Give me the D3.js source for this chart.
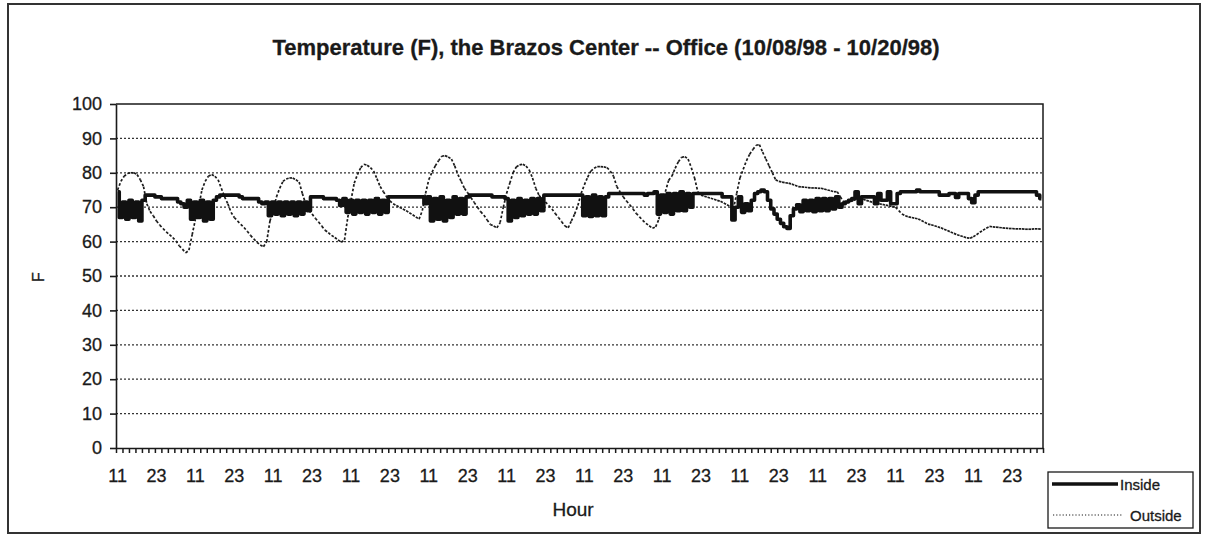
<!DOCTYPE html>
<html>
<head>
<meta charset="utf-8">
<script src="https://cdn.jsdelivr.net/npm/d3@7"></script>
<style>
    body { margin: 0; background: #fff; }
    text { font-family: "Liberation Sans", Arial, sans-serif; fill: #1a1a1a; stroke: #1a1a1a; stroke-width: 0.3px; }
</style>
</head>
<body>
<svg id="chart" width="1206" height="541"></svg>
<script>
// hourly readings, first one at 11:00 on 10/08/98
const startHour = 11;
const labelHours = [11, 23];
const yTicks = [0, 10, 20, 30, 40, 50, 60, 70, 80, 90, 100];
const seriesNames = ['Inside', 'Outside'];

const insideTemp = [
    74.5, 67, 71.5, 66.5, 72, 67, 71.5, 66, 72, 73.5, 73.5, 73.5,
    73, 73, 72.5, 72.5, 72.5, 72.5, 72.5, 71.5, 71, 70, 72, 66.5,
    71.5, 67, 72, 66, 71.5, 66.5, 72, 73, 73.5, 73.5, 73.5, 73.5,
    73.5, 73.5, 73, 72.5, 72.5, 72.5, 72.5, 72.5, 71.5, 71, 71.5, 67.5,
    71.5, 68, 71.5, 67.5, 71.5, 68, 71.5, 67.5, 71.5, 68, 71.5, 69,
    73, 73, 73, 73, 72.5, 72.5, 72.5, 72.5, 72, 70.5, 72.5, 68.5,
    72, 68, 72, 68.5, 72, 68, 72, 68.5, 72.5, 68, 72, 68.5,
    73, 73, 73, 73, 73, 73, 73, 73, 73, 73, 73, 71,
    73, 66, 72.5, 66.5, 73, 66, 72, 67, 73, 68, 72.5, 68,
    73, 73.5, 73.5, 73.5, 73.5, 73.5, 73.5, 73.5, 73, 73, 73, 73,
    72.5, 66, 72, 67, 72.5, 67.5, 72, 68, 72.5, 68, 72.5, 69,
    73.5, 73.5, 73.5, 73.5, 73.5, 73.5, 73.5, 73.5, 73.5, 73.5, 73.5, 73.5,
    67.5, 73, 67.3, 73.5, 67.5, 73, 67.5, 73, 74, 74, 74, 74,
    74, 74, 74, 74, 74, 74, 74, 73.5, 74, 74, 74.5, 68,
    73.5, 68.5, 74, 68, 74, 69, 74.5, 69, 74, 70, 74, 74,
    74, 74, 74, 74, 74, 74, 74, 73, 73, 73, 66.3, 70,
    73, 68.5, 71, 69, 72, 74, 74.5, 75, 74.5, 72, 69.5, 68,
    66.5, 65.3, 64.3, 63.8, 67.5, 69.5, 70.7, 68.7, 72, 69, 72, 68.7,
    72.5, 69, 72.5, 69, 72.5, 69.5, 73, 70, 71, 71.5, 72, 72.5,
    74.5, 71, 73, 73, 73, 73, 71, 74, 72, 72, 74.5, 71,
    71, 74, 74.5, 74.5, 74.5, 74.5, 74.5, 75, 74.5, 74.5, 74.5, 74.5,
    74.5, 74.5, 73.5, 73.5, 73.5, 74, 74, 72.8, 74, 74, 74, 72.5,
    71.3, 73.5, 74.5, 74.5, 74.5, 74.5, 74.5, 74.5, 74.5, 74.5, 74.5, 74.5,
    74.5, 74.5, 74.5, 74.5, 74.5, 74.5, 74.5, 74.5, 73.5, 72.5
];

const outsideTemp = [
    75, 77.5, 79, 79.8, 80, 80, 79.5, 78, 76, 71, 68.8, 67.5,
    66, 64.8, 63.8, 62.8, 62, 61.2, 60.2, 58.8, 57.8, 56.7, 57.5, 62,
    66.5, 70, 75, 77.5, 79, 79.5, 79, 78, 75.5, 73, 71, 68.5,
    67, 66, 65, 64.1, 63, 61.8, 60.8, 59.8, 59, 58.5, 60, 66,
    69, 73, 75.5, 77.5, 78.2, 78.5, 78.5, 78, 77.3, 74, 71, 69,
    68, 66.8, 65.7, 64.5, 63.3, 62.6, 61.8, 61.2, 60.5, 59.8, 60.5, 67,
    72, 77, 79.5, 81.5, 82.5, 82.2, 81.5, 80.5, 78.3, 76, 74.5, 73,
    71.8, 71, 70.5, 70, 69.5, 69, 68.4, 67.8, 67.2, 66.5, 69, 74,
    78, 80.2, 82, 83.5, 84.8, 85, 84.6, 84, 82, 79.5, 77.5, 75.5,
    74.2, 72.8, 71.4, 70, 68.7, 67.7, 66.3, 65, 64.5, 64, 65.5, 70,
    74, 77, 80, 81.7, 82.3, 82.5, 82, 80.8, 78.5, 75.5, 73.5, 72.3,
    71.5, 70.5, 69.5, 68.2, 67, 65.8, 64.5, 64, 66, 68, 70.5, 74,
    76.5, 78.7, 80.5, 81.3, 81.8, 81.8, 81.7, 81.5, 80.5, 79, 76, 74.5,
    73, 71.8, 70.7, 69.5, 68.2, 67.2, 66.2, 65.3, 64.6, 63.9, 64.3, 66.5,
    72, 74.5, 77.8, 79, 81.3, 83.2, 84.5, 84.7, 84, 81.5, 78.5, 74.5,
    73.5, 73.2, 72.9, 72.6, 72.3, 72, 71.7, 71.2, 70.7, 70.2, 69.5, 74,
    78.5, 81, 83.5, 85.4, 86.8, 88, 88.2, 86, 84, 82, 80, 78,
    77.5, 77.3, 77.1, 77, 76.7, 76.4, 76, 75.9, 75.8, 75.7, 75.6, 75.6,
    75.5, 75.5, 75.3, 75, 74.8, 74.5, 74.5, 73, 71.5, 71.3, 71.6, 72,
    72.3, 72.5, 72.3, 72, 71.7, 71.4, 71.2, 71, 70.8, 70.6, 70.4, 70.2,
    70, 69, 68, 67.5, 67.2, 67, 66.8, 66.6, 66.1, 65.6, 65.1, 64.9,
    64.6, 64.3, 64, 63.6, 63.2, 62.8, 62.4, 62, 61.7, 61.4, 61.1, 61,
    61.4, 62, 62.7, 63.3, 63.9, 64.4, 64.3, 64.2, 64.1, 64, 63.9, 63.8,
    63.8, 63.7, 63.7, 63.7, 63.6, 63.6, 63.6, 63.7, 63.7, 63.6
];

const svg = d3.select('#chart');
const plot = { left: 116, right: 1043, top: 104, bottom: 448 };
const ink = '#1a1a1a';

const categories = insideTemp.map((d, i) => i);
const hourOf = i => (startHour + i) % 24;

const x = d3.scaleBand().domain(categories).range([plot.left, plot.right]);
const xEdge = d3.scaleLinear().domain([0, categories.length]).range([plot.left, plot.right]);
const y = d3.scaleLinear().domain([0, 100]).range([plot.bottom, plot.top]);
const cx = i => x(i) + x.bandwidth() / 2;

// outer frame
svg.append('rect')
    .attr('x', 8).attr('y', 4)
    .attr('width', 1192).attr('height', 529)
    .attr('fill', 'none')
    .attr('stroke', '#333')
    .attr('stroke-width', 2);

// title
svg.append('text')
    .attr('x', 606).attr('y', 55)
    .attr('text-anchor', 'middle')
    .attr('font-size', '22px')
    .attr('font-weight', 'bold')
    .text('Temperature (F), the Brazos Center -- Office (10/08/98 - 10/20/98)');

// dotted gridlines
svg.append('g')
    .selectAll('line')
    .data(yTicks.filter(t => t > 0 && t < 100))
    .enter()
    .append('line')
    .attr('x1', plot.left).attr('x2', plot.right)
    .attr('y1', d => y(d)).attr('y2', d => y(d))
    .attr('stroke', '#333')
    .attr('stroke-width', 1.3)
    .attr('stroke-dasharray', '2,2');

// plot box top / right
svg.append('path')
    .attr('d', `M${plot.left},${y(100)}H${plot.right}V${y(0)}`)
    .attr('fill', 'none')
    .attr('stroke', ink)
    .attr('stroke-width', 1.5);

// y axis
const yAxis = svg.append('g')
    .attr('transform', `translate(${plot.left},0)`)
    .call(d3.axisLeft(y).tickValues(yTicks).tickSize(6).tickPadding(8).tickSizeOuter(0));
yAxis.selectAll('text').attr('font-size', '18px').attr('font-family', null);
yAxis.selectAll('line, path').attr('stroke', ink).attr('stroke-width', 1.6);

// x axis tick marks (every 2 hours, on category edges)
const xTicks = svg.append('g')
    .attr('transform', `translate(0,${plot.bottom})`)
    .call(d3.axisBottom(xEdge)
        .tickValues(d3.range(0, categories.length + 1, 2))
        .tickFormat('')
        .tickSize(5)
        .tickSizeOuter(0));
xTicks.selectAll('line, path').attr('stroke', ink).attr('stroke-width', 1.5);

// x axis labels
const xLabels = svg.append('g')
    .attr('transform', `translate(0,${plot.bottom})`)
    .call(d3.axisBottom(x)
        .tickValues(categories.filter(i => labelHours.includes(hourOf(i))))
        .tickFormat(i => String(hourOf(i)))
        .tickSize(0)
        .tickPadding(21));
xLabels.select('.domain').remove();
xLabels.selectAll('text').attr('font-size', '18px').attr('font-family', null);

// axis titles
svg.append('text')
    .attr('transform', `translate(44,277) rotate(-90)`)
    .attr('text-anchor', 'middle')
    .attr('font-size', '16px')
    .text('F');

svg.append('text')
    .attr('x', 573).attr('y', 516)
    .attr('text-anchor', 'middle')
    .attr('font-size', '19px')
    .text('Hour');

// outside: each hourly step drawn on its own, so the dots restart per segment
const outsidePairs = d3.pairs(outsideTemp.map((v, i) => [cx(i), y(v)]));
svg.append('g')
    .selectAll('line')
    .data(outsidePairs)
    .enter()
    .append('line')
    .attr('x1', d => d[0][0]).attr('y1', d => d[0][1])
    .attr('x2', d => d[1][0]).attr('y2', d => d[1][1])
    .attr('stroke', ink)
    .attr('stroke-width', 1.7)
    .attr('stroke-dasharray', '2.6,2');

// inside: heavy line; stepped so the thermostat cycling reads as a solid band
const insideLine = d3.line()
    .x((d, i) => cx(i))
    .y(d => y(d))
    .curve(d3.curveStep);

svg.append('path')
    .datum(insideTemp)
    .attr('d', insideLine)
    .attr('fill', 'none')
    .attr('stroke', '#111')
    .attr('stroke-width', 3.6)
    .attr('stroke-linejoin', 'round');

// legend
const legend = svg.append('g').attr('transform', 'translate(1048,472)');
legend.append('rect')
    .attr('width', 145).attr('height', 56)
    .attr('fill', '#fff')
    .attr('stroke', ink)
    .attr('stroke-width', 1.3);
legend.append('line')
    .attr('x1', 4).attr('x2', 70).attr('y1', 12).attr('y2', 12)
    .attr('stroke', '#111').attr('stroke-width', 3.5);
legend.append('line')
    .attr('x1', 5).attr('x2', 74).attr('y1', 43).attr('y2', 43)
    .attr('stroke', ink).attr('stroke-width', 1).attr('stroke-dasharray', '1.2,2');
legend.selectAll('text.lab')
    .data(seriesNames)
    .enter()
    .append('text')
    .attr('class', 'lab')
    .attr('x', (d, i) => i === 0 ? 72 : 82)
    .attr('y', (d, i) => i === 0 ? 18 : 49)
    .attr('font-size', '15px')
    .text(d => d);
</script>
</body>
</html>
